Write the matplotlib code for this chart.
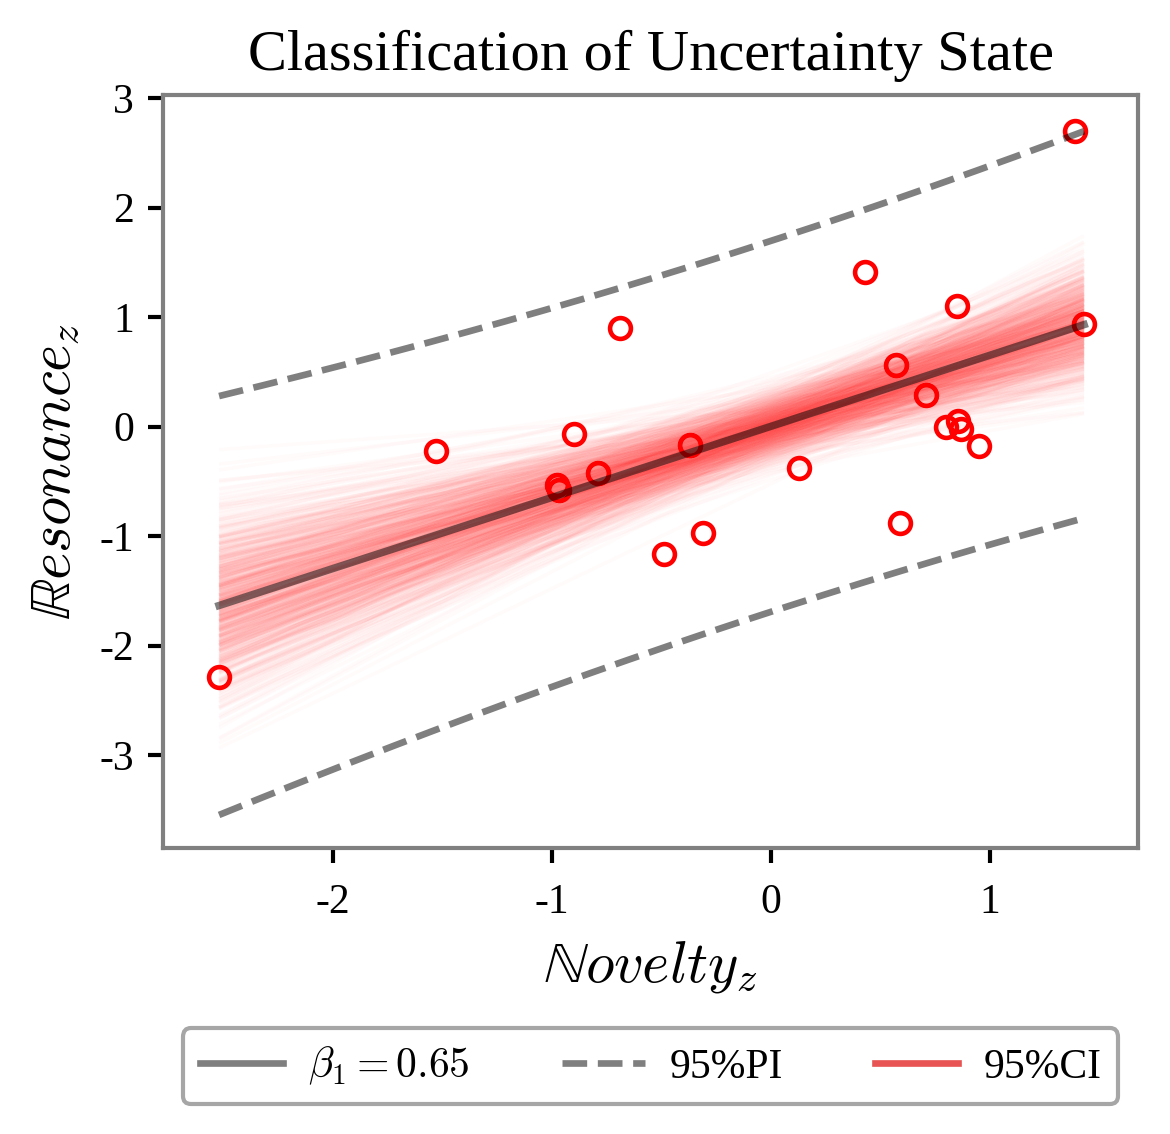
import numpy as np
import matplotlib
matplotlib.use("Agg")
import matplotlib.pyplot as plt
from matplotlib.collections import LineCollection
from matplotlib.lines import Line2D
from statistics import NormalDist

# ---- data ----
novelty_z = [-2.52, -1.53, -0.69, -0.90, -0.975, -0.97, -0.79, -0.37, -0.49, -0.31,
             0.13, 0.43, 0.57, 0.59, 0.71, 0.85, 0.80, 0.855, 0.87, 0.95, 1.39, 1.43]
resonance_z = [-2.29, -0.22, 0.90, -0.07, -0.53, -0.58, -0.42, -0.17, -1.16, -0.97,
               -0.38, 1.41, 0.56, -0.88, 0.29, 1.10, 0.00, 0.05, -0.02, -0.18, 2.70, 0.94]
x_ticks = [-2, -1, 0, 1]
y_ticks = [-3, -2, -1, 0, 1, 2, 3]
title = "Classification of Uncertainty State"
legend_labels = [r"$\beta_1 = 0.65$", "95%PI", "95%CI"]
n_draws = 700
t_crit = 2.086  # t(0.975, df=20)

plt.rcParams['font.family'] = ['Liberation Serif', 'DejaVu Serif']
plt.rcParams['mathtext.fontset'] = 'cm'
plt.rcParams['axes.unicode_minus'] = False

x = np.array(novelty_z)
y = np.array(resonance_z)
n = len(x)
xbar, ybar = x.mean(), y.mean()
Sxx = ((x - xbar) ** 2).sum()
b1 = ((x - xbar) * (y - ybar)).sum() / Sxx
b0 = ybar - b1 * xbar
resid = y - (b0 + b1 * x)
s = np.sqrt((resid ** 2).sum() / (n - 2))
se_mean = s / np.sqrt(n)
se_slope = s / np.sqrt(Sxx)

xs = np.linspace(x.min(), x.max(), 200)
yhat = b0 + b1 * xs
pi_hw = t_crit * s * np.sqrt(1 + 1 / n + (xs - xbar) ** 2 / Sxx)

# deterministic low-discrepancy draws of (mean, slope) uncertainty
def halton(i, base):
    f, r = 1.0, 0.0
    while i > 0:
        f /= base
        r += f * (i % base)
        i //= base
    return r

nd = NormalDist()
segs = []
xe = np.array([x.min(), x.max()])
for i in range(1, n_draws + 1):
    za = nd.inv_cdf(halton(i, 2))
    zb = nd.inv_cdf(halton(i, 3))
    m = ybar + za * se_mean
    sl = b1 + zb * se_slope
    ye = m + sl * (xe - xbar)
    segs.append(np.column_stack([xe, ye]))

fig = plt.figure(figsize=(3.9, 3.78), dpi=300)
ax = fig.add_axes([163 / 1170, 1 - 848 / 1134, (1138 - 163) / 1170, (848 - 95) / 1134])

ax.plot(x, y, 'o', ms=5, mfc='none', mec='red', mew=1.1, zorder=2, ls='none')
lc = LineCollection(segs, colors='red', alpha=0.015, linewidths=0.9, zorder=3)
ax.add_collection(lc)
ax.plot(xs, yhat, color='black', alpha=0.5, lw=1.8, zorder=4)
ax.plot(xs, yhat + pi_hw, color='black', alpha=0.5, lw=1.6, ls='--', zorder=4)
ax.plot(xs, yhat - pi_hw, color='black', alpha=0.5, lw=1.6, ls='--', zorder=4)

ax.set_xlim(-2.776, 1.676)
ax.set_ylim(-3.85, 3.03)
ax.set_xticks(x_ticks)
ax.set_yticks(y_ticks)
ax.set_xticklabels([str(v) for v in x_ticks])
ax.set_yticklabels([str(v) for v in y_ticks])
ax.tick_params(labelsize=10, width=1.0, length=3.5, color='black')
ax.tick_params(axis='x', pad=5)
for sp in ax.spines.values():
    sp.set_color('#808080')
    sp.set_linewidth(1.0)

ax.set_title(title, fontsize=14)
ax.set_xlabel(r"$\mathbb{N}ovelty_z$", fontsize=14)
ax.set_ylabel(r"$\mathbb{R}esonance_z$", fontsize=14)

handles = [Line2D([], [], color='black', alpha=0.5, lw=1.6),
           Line2D([], [], color='black', alpha=0.5, lw=1.6, ls='--'),
           Line2D([], [], color='#e85454', lw=1.6)]
leg = ax.legend(handles, legend_labels, loc='upper center', bbox_to_anchor=(0.5, -0.212),
                ncol=3, fontsize=10, frameon=True, fancybox=True, edgecolor='#909090',
                handlelength=2.0, handletextpad=0.6, columnspacing=2.2)
leg.get_frame().set_linewidth(1.0)

fig.savefig("out.png", dpi=300)
